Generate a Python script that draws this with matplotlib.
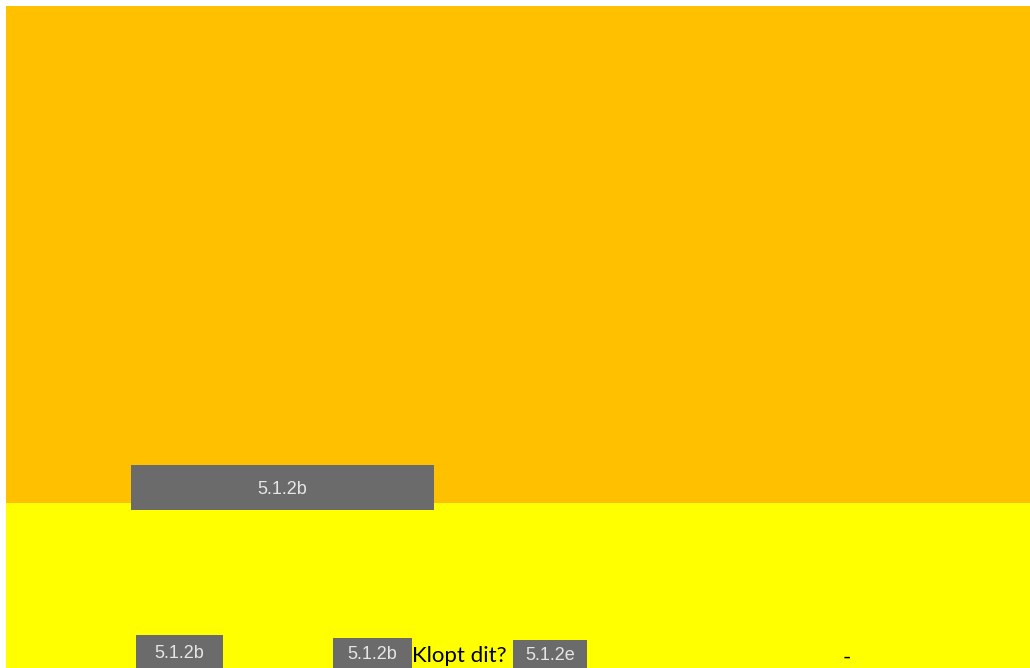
import matplotlib.pyplot as plt
from matplotlib.patches import Rectangle

# bands (top to bottom), heights in pixels
band_names = ['boven', 'onder']
band_heights = [497, 165]
band_colors = ['#FFC000', '#FFFF00']

# grey tags
tag_texts = ['5.1.2b', '5.1.2b', '5.1.2b', '5.1.2e']
tag_boxes = [(131, 465, 303, 45), (136, 635, 87, 33), (333, 638, 79, 30), (513, 640, 74, 28)]

notes = ['Klopt dit?', '-']
note_pos = [(412, 656), (843, 658)]

W, H = 1030, 668
fig = plt.figure(figsize=(W / 100, H / 100), dpi=100)
ax = fig.add_axes([0, 0, 1, 1])
ax.set_xlim(0, W)
ax.set_ylim(H, 0)
ax.axis('off')

top = 6
for name, h, c in zip(band_names, band_heights, band_colors):
    ax.bar(6, h, width=W - 6, bottom=top, align='edge', color=c, linewidth=0)
    top += h

for t, (x, y, w, h) in zip(tag_texts, tag_boxes):
    ax.add_patch(Rectangle((x, y), w, h, facecolor='#6B6B6B', edgecolor='none'))
    ax.text(x + w / 2, min(y + h / 2 + 1.5, 656), t, ha='center', va='center',
            color='#E6E6E6', fontsize=13, family='Liberation Sans')

for t, (x, y) in zip(notes, note_pos):
    ax.text(x, y, t, ha='left', va='center', color='black', fontsize=16, family='Lato')

fig.savefig('out.png', dpi=100)
